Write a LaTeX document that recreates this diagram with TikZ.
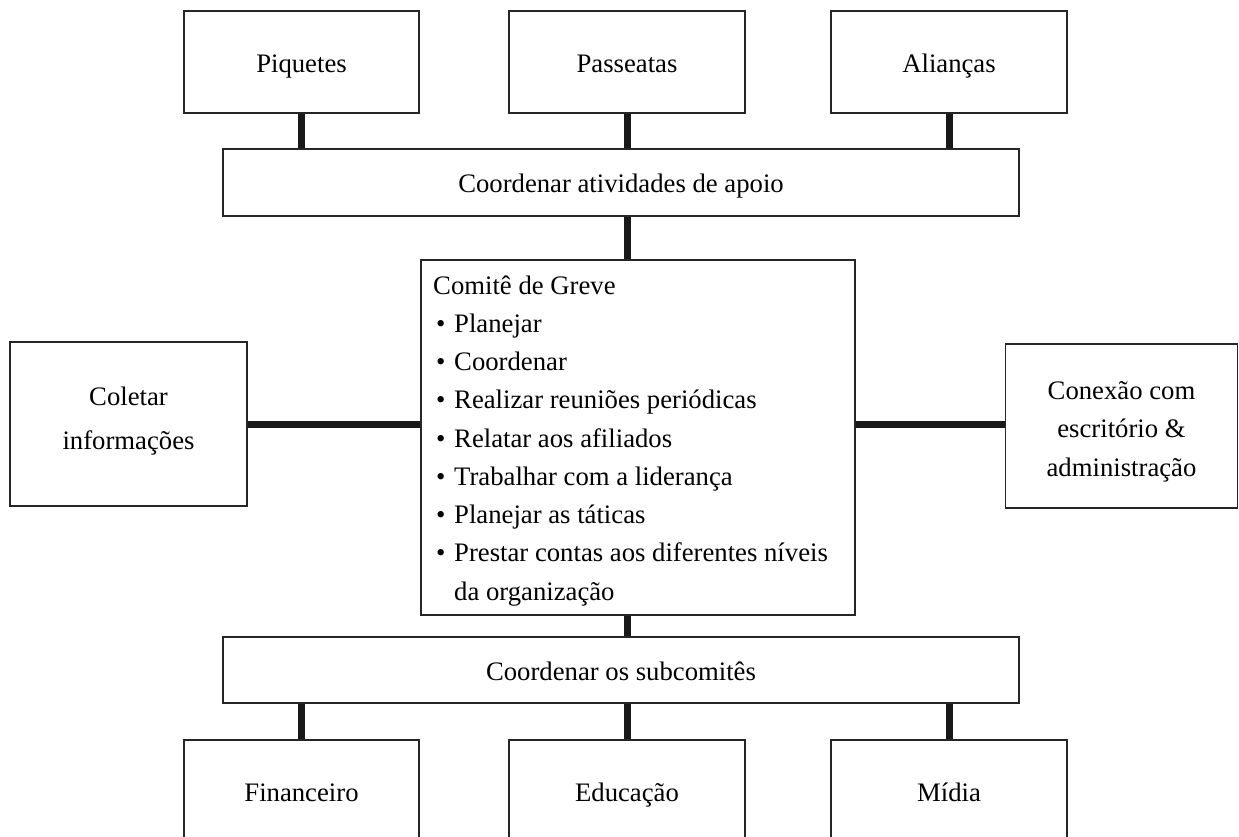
\documentclass[tikz,border=0pt]{standalone}
\usepackage{fontspec}
\setmainfont{Liberation Serif}
\begin{document}
\begin{tikzpicture}[x=1pt,y=-1pt,
  box/.style={draw=black!85, line width=1.6pt, fill=white, inner sep=0pt, align=center,
    font=\fontsize{26.7}{38.25}\selectfont},
  one/.style={text height=25pt, text depth=4pt},
  txt/.style={inner sep=0pt, font=\fontsize{26.7}{38.25}\selectfont},
  conn/.style={line width=7pt, black!90, line cap=butt}]
\useasboundingbox (0,0) rectangle (1239,837);
\clip (0,0) rectangle (1239,837);
% top boxes
\node[box, one, minimum width=235pt, minimum height=102pt] (piq) at (301.5,62) {Piquetes};
\node[box, one, minimum width=236pt, minimum height=102pt] (pas) at (627,62) {Passeatas};
\node[box, one, minimum width=236pt, minimum height=102pt] (ali) at (949,62) {Alianças};
% coordinate support
\node[box, one, minimum width=796pt, minimum height=67pt] (coa) at (621,182.5) {Coordenar atividades de apoio};
% central box
\node[box, minimum width=434pt, minimum height=355pt] (cg) at (638,437.5) {};
\node[txt, anchor=base west, align=left] (cgt) at (433,600)
 {Comitê de Greve\\
  \hspace*{3pt}\makebox[18pt][l]{•}Planejar\\
  \hspace*{3pt}\makebox[18pt][l]{•}Coordenar\\
  \hspace*{3pt}\makebox[18pt][l]{•}Realizar reuniões periódicas\\
  \hspace*{3pt}\makebox[18pt][l]{•}Relatar aos afiliados\\
  \hspace*{3pt}\makebox[18pt][l]{•}Trabalhar com a liderança\\
  \hspace*{3pt}\makebox[18pt][l]{•}Planejar as táticas\\
  \hspace*{3pt}\makebox[18pt][l]{•}Prestar contas aos diferentes níveis\\
  \hspace*{21pt}da organização};
% side boxes
\node[box, minimum width=237pt, minimum height=164pt] (col) at (128.5,424) {};
\node[txt, anchor=base, align=center] (colt) at (128.5,449) {Coletar\\[5pt]informações};
\node[box, minimum width=232pt, minimum height=164pt] (con) at (1121.5,426) {};
\node[txt, anchor=base, align=center] (cont) at (1121.5,476) {Conexão com\\escritório \&\\administração};
% coordinate subcommittees
\node[box, one, minimum width=796pt, minimum height=66pt] (cob) at (621,670) {Coordenar os subcomitês};
% bottom boxes
\node[box, one, minimum width=235pt, minimum height=102pt] (fin) at (301.5,791) {Financeiro};
\node[box, one, minimum width=236pt, minimum height=102pt] (edu) at (627,791) {Educação};
\node[box, one, minimum width=236pt, minimum height=102pt] (mid) at (949,791) {Mídia};
% connectors
\draw[conn] (piq.south) -- (piq.south |- coa.north);
\draw[conn] (pas.south) -- (pas.south |- coa.north);
\draw[conn] (ali.south) -- (ali.south |- coa.north);
\draw[conn] (pas.south |- coa.south) -- (pas.south |- cg.north);
\draw[conn] (col.east) -- (col.east -| cg.west);
\draw[conn] (cg.east |- col.east) -- (con.west |- col.east);
\draw[conn] (pas.south |- cg.south) -- (pas.south |- cob.north);
\draw[conn] (fin.north) -- (fin.north |- cob.south);
\draw[conn] (edu.north) -- (edu.north |- cob.south);
\draw[conn] (mid.north) -- (mid.north |- cob.south);
\end{tikzpicture}
\end{document}
